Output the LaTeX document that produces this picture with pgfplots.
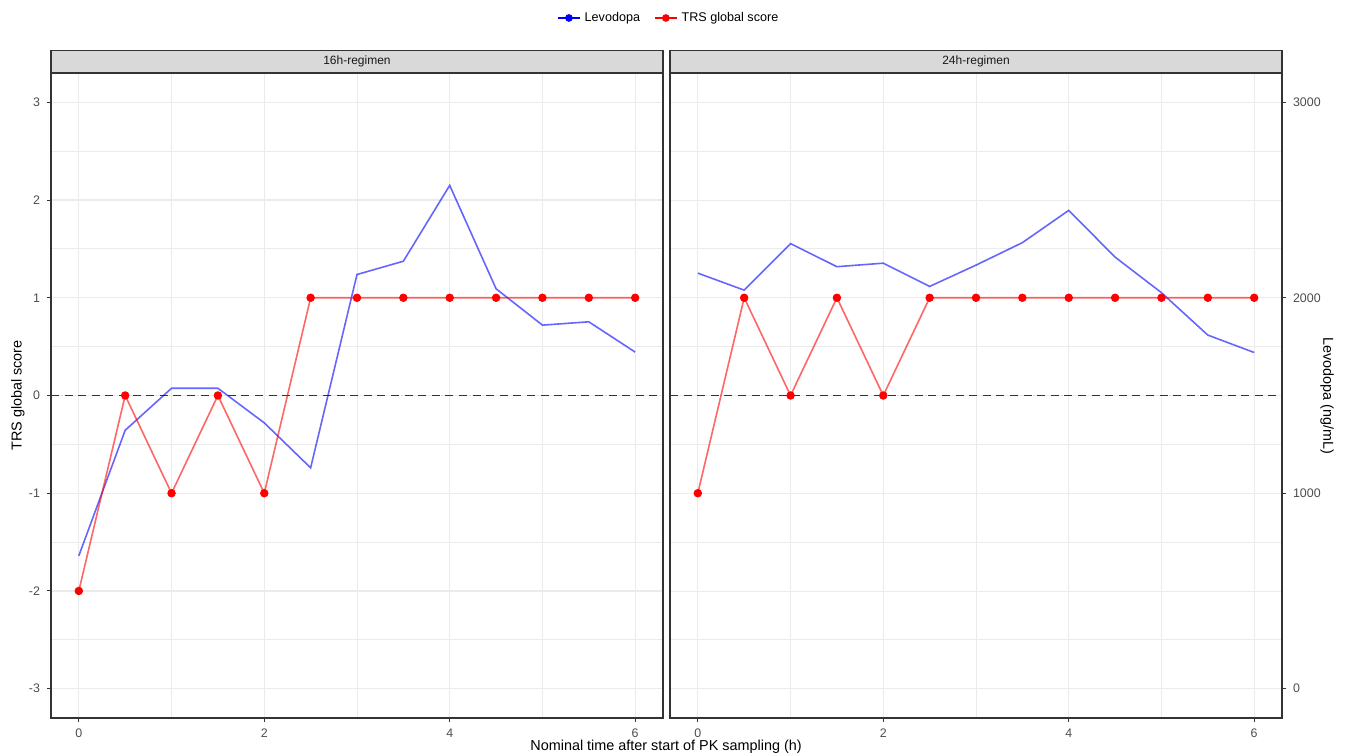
\documentclass[border=0pt]{standalone}
\usepackage{fontspec}
\setmainfont{Liberation Sans}
\usepackage{pgfplots}
\pgfplotsset{compat=1.18}
\usepackage{pgfplotstable}

\definecolor{gridc}{HTML}{EBEBEB}
\definecolor{axc}{HTML}{333333}
\definecolor{stripc}{HTML}{D9D9D9}
\definecolor{tickc}{HTML}{4D4D4D}

% time (h), levodopa (ng/mL), TRS global score
\pgfplotstableread{
t   lev   trs
0   680   -2
0.5 1322  0
1   1537  -1
1.5 1537  0
2   1360  -1
2.5 1130  1
3   2119  1
3.5 2187  1
4   2575  1
4.5 2046  1
5   1860  1
5.5 1877  1
6   1722  1
}\sixteen

\pgfplotstableread{
t   lev   trs
0   2126  -1
0.5 2039  1
1   2277  0
1.5 2159  1
2   2177  0
2.5 2058  1
3   2167  1
3.5 2282  1
4   2447  1
4.5 2208  1
5   2026  1
5.5 1809  1
6   1720  1
}\twentyfour

\pgfplotsset{facet/.style={
  scale only axis, width=306pt, height=322.5pt,
  xmin=-0.3, xmax=6.3, ymin=-3.3, ymax=3.3,
  xtick={0,2,4,6}, minor xtick={1,3,5},
  xtick pos=bottom,
  grid=both,
  major grid style={gridc, line width=0.55pt},
  minor grid style={gridc, line width=0.45pt},
  axis line style={axc, line width=0.6pt},
  tick align=outside, major tick length=2pt, minor tick length=0pt,
  tick style={axc, line width=0.5pt},
  tick label style={font=\fontsize{6.2}{7}\selectfont, text=tickc},
  /pgf/number format/assume math mode=true,
  every axis title/.style={at={(0.5,1)}, anchor=south, fill=stripc, draw=axc, line width=0.6pt,
    minimum width=306pt, minimum height=11pt, inner sep=0pt,
    font=\fontsize{6}{7}\selectfont, text=black!90},
  label style={font=\fontsize{7.2}{8}\selectfont, text=black},
}}

\begin{document}
\begin{tikzpicture}
\useasboundingbox (-25.5pt,-17.5pt) rectangle (648pt,359pt);

\begin{axis}[facet,
  title={16h-regimen},
  ytick={-3,-2,-1,0,1,2,3},
  minor ytick={-2.5,-1.5,-0.5,0.5,1.5,2.5},
  ytick pos=left,
  ylabel={TRS global score},
  ylabel style={at={(axis description cs:-0.054,0.5)}, anchor=center, rotate=0},
  xlabel={Nominal time after start of PK sampling (h)},
  xlabel style={at={(axis description cs:1.005,-0.045)}, anchor=center},
  legend columns=2,
  legend style={at={(axis description cs:1.011,1.0853)}, anchor=center, draw=none, fill=none,
    font=\fontsize{6.3}{7}\selectfont, /tikz/every even column/.append style={column sep=5pt}},
  legend image code/.code={\draw[mark repeat=2,mark phase=2,#1] plot coordinates {(0pt,0pt) (5.5pt,0pt) (11pt,0pt)};},
]
\addlegendimage{blue, line width=0.8pt, mark=*, mark size=1.5pt, mark options={solid}}
\addlegendentry{Levodopa}
\addlegendimage{red, line width=0.8pt, mark=*, mark size=1.5pt, mark options={solid}}
\addlegendentry{TRS global score}
\addplot[axc, line width=0.85pt, dash pattern=on 4pt off 2.8pt, forget plot] coordinates {(-0.3,0) (6.3,0)};
\addplot[blue, opacity=0.6, line width=0.8pt, forget plot] table[x=t, y expr=(\thisrow{lev}-1500)/500] {\sixteen};
\addplot[red, opacity=0.6, line width=0.8pt, forget plot] table[x=t, y=trs] {\sixteen};
\addplot[red, only marks, mark=*, mark size=1.9pt, forget plot] table[x=t, y=trs] {\sixteen};
\end{axis}

\begin{axis}[facet, at={(309.5pt,0pt)},
  title={24h-regimen},
  ytick={-3,-1,1,3},
  yticklabels={0,1000,2000,3000},
  minor ytick={-2.5,-2,-1.5,-0.5,0,0.5,1.5,2,2.5},
  ytick pos=right, yticklabel pos=right,
  ylabel={Levodopa (ng/mL)},
  ylabel style={at={(axis description cs:1.0735,0.5)}, anchor=center, rotate=180},
]
\addplot[axc, line width=0.85pt, dash pattern=on 4pt off 2.8pt] coordinates {(-0.3,0) (6.3,0)};
\addplot[blue, opacity=0.6, line width=0.8pt] table[x=t, y expr=(\thisrow{lev}-1500)/500] {\twentyfour};
\addplot[red, opacity=0.6, line width=0.8pt] table[x=t, y=trs] {\twentyfour};
\addplot[red, only marks, mark=*, mark size=1.9pt] table[x=t, y=trs] {\twentyfour};
\end{axis}
\end{tikzpicture}
\end{document}
